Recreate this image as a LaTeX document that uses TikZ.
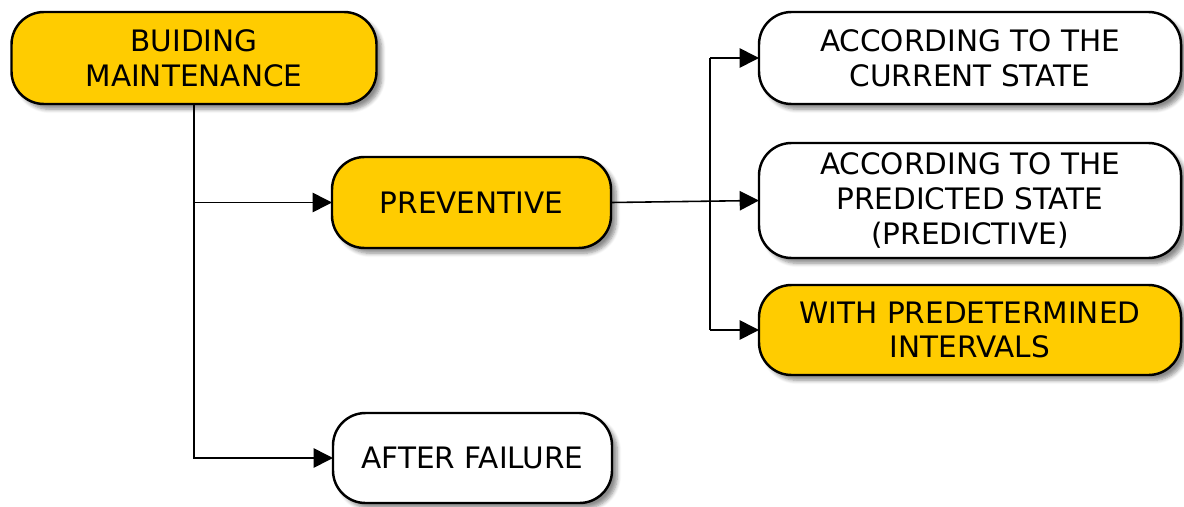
\documentclass[tikz,border=0pt]{standalone}
\usepackage{fontspec}
\setmainfont{DejaVu Sans}
\usetikzlibrary{arrows.meta,shadows.blur}

\definecolor{boxyellow}{HTML}{FFCC00}

\tikzset{
  stage/.style={draw=black, line width=1.4pt, rounded corners=0.65cm,
    align=center, font=\fontsize{16.8}{19.8}\selectfont,
    inner sep=0pt, outer sep=0pt,
    blur shadow={shadow xshift=3pt, shadow yshift=-3pt,
      shadow blur steps=6, shadow opacity=45}},
  link/.style={draw=black, line width=0.9pt},
  linkto/.style={link, -{Triangle[length=11pt,width=11pt]}}
}

\begin{document}
\begin{tikzpicture}

\def\HILITE{boxyellow}
\def\PLAIN{white}
  \useasboundingbox (0,0) rectangle (23.68,10.12);

  % left column
  \node[stage, fill=\HILITE, minimum width=7.3cm, minimum height=1.84cm]
    (maint) at (3.88,8.96) {BUIDING\\MAINTENANCE};
  \node[stage, fill=\HILITE, minimum width=5.58cm, minimum height=1.82cm]
    (prevent) at (9.43,6.07) {PREVENTIVE};
  \node[stage, fill=\PLAIN, minimum width=5.58cm, minimum height=1.8cm]
    (failure) at (9.45,0.96) {AFTER FAILURE};

  % right column
  \node[stage, fill=\PLAIN, minimum width=8.44cm, minimum height=1.84cm]
    (current) at (19.40,8.96) {ACCORDING TO THE\\CURRENT STATE};
  \node[stage, fill=\PLAIN, minimum width=8.44cm, minimum height=2.3cm]
    (predict) at (19.40,6.11) {ACCORDING TO THE\\PREDICTED STATE\\(PREDICTIVE)};
  \node[stage, fill=\HILITE, minimum width=8.44cm, minimum height=1.8cm]
    (interval) at (19.40,3.52) {WITH PREDETERMINED\\INTERVALS};

  \coordinate (split) at (14.2,0);

  % connectors
  \draw[linkto] (maint.south) |- (failure.west);
  \draw[linkto] (maint.south |- prevent.west) -- (prevent.west);
  \draw[linkto] (prevent.east) -- (predict.west);
  \draw[link] (split |- current.west) -- (split |- interval.west);
  \draw[linkto] (split |- current.west) -- (current.west);
  \draw[linkto] (split |- interval.west) -- (interval.west);

\end{tikzpicture}
\end{document}
